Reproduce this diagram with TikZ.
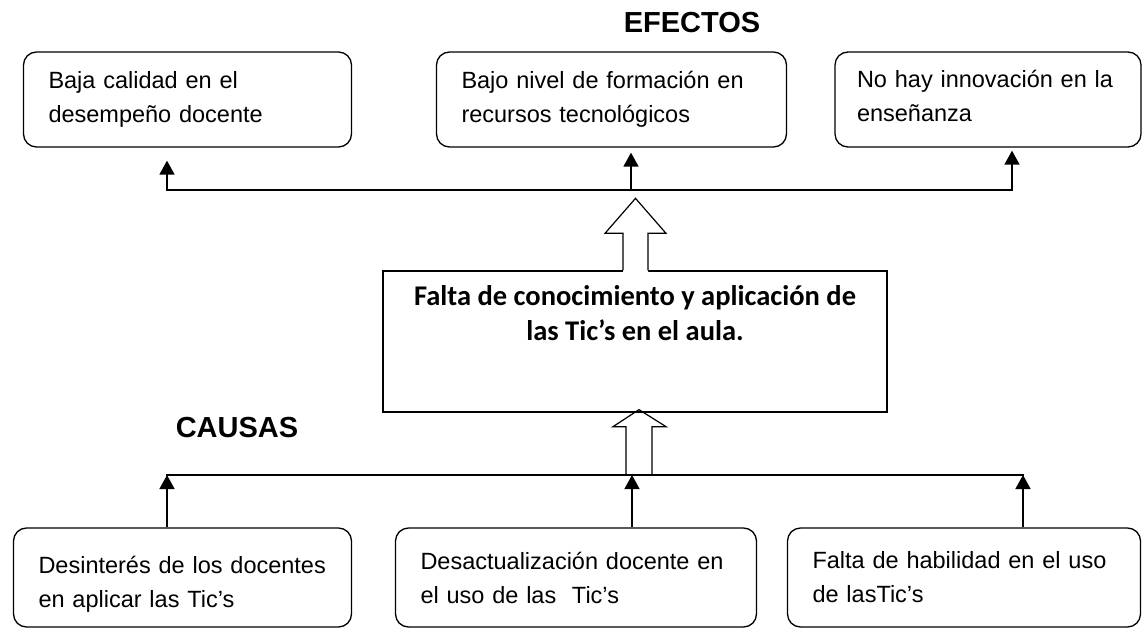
\documentclass[tikz,border=0pt]{standalone}
\usepackage{fontspec}
\setmainfont{Liberation Sans}
\newfontfamily\calibrifont{Carlito}
\usetikzlibrary{arrows.meta, positioning, calc}

\begin{document}
\begin{tikzpicture}[x=1pt, y=-1pt,
    caja/.style={draw, rounded corners=13pt, line width=1.3pt, align=left,
        inner xsep=25pt, inner ysep=0pt, font=\fontsize{23.5}{34}\selectfont},
    flecha/.style={line width=1.5pt, -{Triangle[width=15pt, length=14pt]}},
    linea/.style={line width=1.5pt, line cap=rect},
    hueca/.style={line width=1.2pt},
    titulo/.style={font=\fontsize{29}{35}\selectfont\bfseries}]

    \useasboundingbox (0,0) rectangle (1142,628);

    % efectos
    \node[titulo] (efectos) at (692,23) {EFECTOS};
    \node[caja, text width=278pt, minimum height=95pt] (e1) at (187.5,99.5)
        {Baja calidad en el\\desempeño docente};
    \node[caja, text width=300pt, minimum height=95pt] (e2) at (611.5,99.5)
        {Bajo nivel de formación en\\recursos tecnológicos};
    \node[caja, text width=262pt, inner xsep=22pt, minimum height=95pt] (e3)
        at (988,99.5) {No hay innovación en la\\enseñanza\rule[-8pt]{0pt}{0pt}};

    % linea de efectos
    \coordinate (t1) at (167,190);
    \coordinate (t2) at (631,190);
    \coordinate (t3) at (1012,190);
    \draw[linea] (t1) -- (t3);
    \draw[flecha, shorten >=13pt] (t1) -- (t1 |- e1.south);
    \draw[flecha, shorten >=5pt] (t2) -- (t2 |- e2.south);
    \draw[flecha, shorten >=3pt] (t3) -- (t3 |- e3.south);

    % problema central
    \node[draw, line width=1.3pt, minimum width=504pt, minimum height=141pt]
        (prob) at (635,341.5) {};
    \node[font=\calibrifont\fontsize{28.5}{35}\selectfont\bfseries, align=center]
        (probtxt) at (635,313)
        {Falta de conocimiento y aplicación de\\las Tic’s en el aula.};

    % flecha hueca superior
    \begin{scope}[shift={(prob.north)}]
        \fill[white] (-12,2) -- (-12,-37) -- (-30,-37) -- (0.5,-72)
            -- (31,-37) -- (13,-37) -- (13,2) -- cycle;
        \draw[hueca] (-12,0) -- (-12,-37) -- (-30,-37) -- (0.5,-72)
            -- (31,-37) -- (13,-37) -- (13,0);
    \end{scope}

    % causas
    \node[titulo] (causas) at (237,428) {CAUSAS};
    \node[caja, text width=288pt, minimum height=99pt] (c1) at (182.5,577.5)
        {\rule{0pt}{30pt}Desinterés de los docentes\\en aplicar las Tic’s};
    \node[caja, text width=311pt, minimum height=99pt] (c2) at (576,577.5)
        {Desactualización docente en\\el uso de las\ \ Tic’s};
    \node[caja, text width=303pt, minimum height=99pt] (c3) at (964,577.5)
        {Falta de habilidad en el uso\\de lasTic’s};

    % linea de causas
    \coordinate (b1) at (167,475);
    \coordinate (b2) at (632,475);
    \coordinate (b3) at (1023,475);
    \draw[linea] (b1) -- (b3);
    \draw[flecha] (c1.north -| b1) -- (b1);
    \draw[flecha] (c2.north -| b2) -- (b2);
    \draw[flecha] (c3.north -| b3) -- (b3);

    % flecha hueca inferior
    \begin{scope}[shift={(prob.south)}]
        \draw[hueca] (-9,63) -- (-9,14) -- (-22,14) -- (4,-3)
            -- (31,14) -- (17,14) -- (17,63);
    \end{scope}
\end{tikzpicture}
\end{document}
